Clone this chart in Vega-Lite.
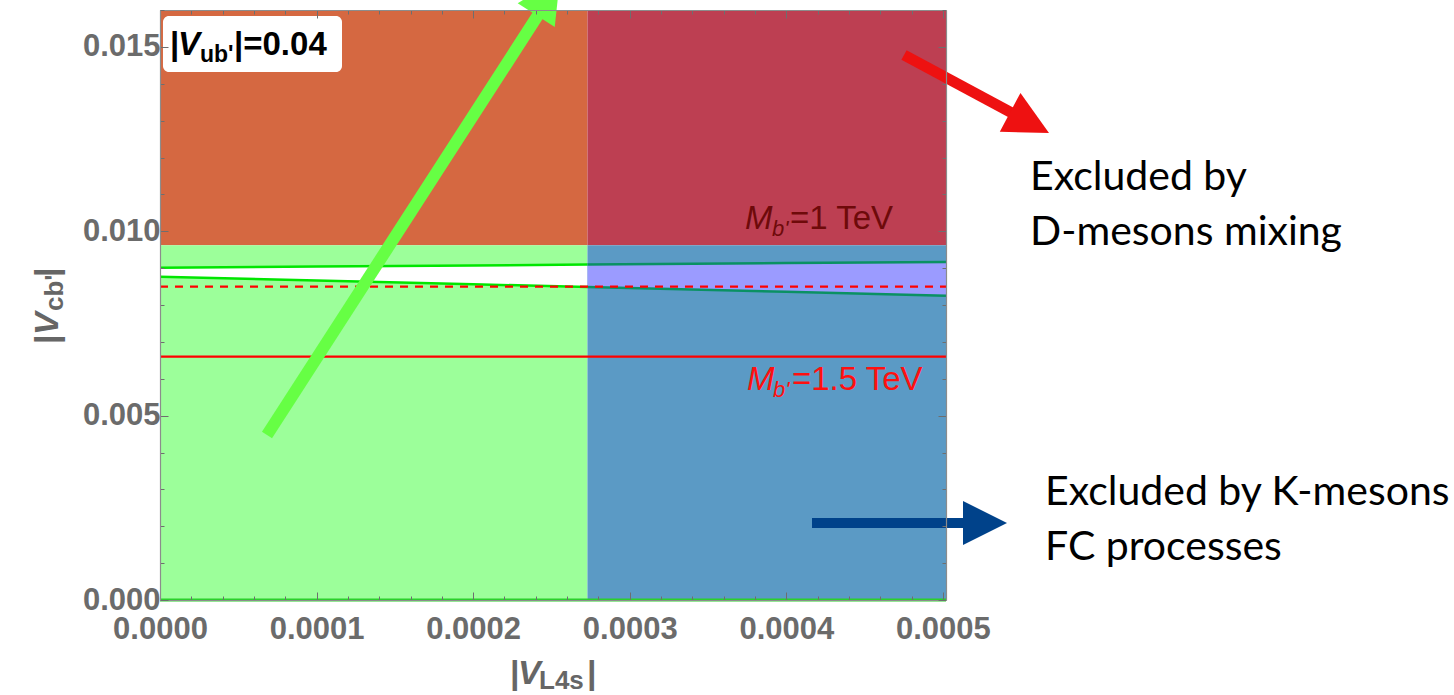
{
  "$schema": "https://vega.github.io/schema/vega-lite/v6.json",
  "width": 786,
  "height": 590,
  "autosize": {"type": "none"},
  "padding": {"left": 160, "top": 10, "right": 508, "bottom": 95},
  "background": "#ffffff",
  "config": {"view": {"stroke": null}},
  "encoding": {
    "x": {"field": "x", "type": "quantitative", "scale": {"domain": [0, 0.000502], "nice": false}, "axis": null},
    "y": {"field": "y", "type": "quantitative", "scale": {"domain": [0, 0.016], "nice": false}, "axis": null}
  },
  "layer": [
    {
      "description": "Exclusion regions in the |V_L4s| - |V_cb'| plane",
      "data": {"values": [
        {"x": 0, "x2": 0.000273, "y": 0.00962, "y2": 0.016, "region": "D-mixing excluded"},
        {"x": 0.000273, "x2": 0.000502, "y": 0.00962, "y2": 0.016, "region": "D-mixing and K-FC excluded"},
        {"x": 0, "x2": 0.000273, "y": 0, "y2": 0.00962, "region": "allowed"},
        {"x": 0.000273, "x2": 0.000502, "y": 0, "y2": 0.00962, "region": "K-FC excluded"}
      ]},
      "mark": {"type": "rect"},
      "encoding": {
        "x": {"field": "x", "type": "quantitative", "scale": {"domain": [0, 0.000502], "nice": false}, "title": null,
          "axis": {"orient": "bottom",
            "values": [0, 0.00002, 0.00004, 0.00006, 0.00008, 0.0001, 0.00012, 0.00014, 0.00016, 0.00018, 0.0002, 0.00022, 0.00024, 0.00026, 0.00028, 0.0003, 0.00032, 0.00034, 0.00036, 0.00038, 0.0004, 0.00042, 0.00044, 0.00046, 0.00048, 0.0005],
            "labelExpr": "abs(datum.value*10000-round(datum.value*10000))<1e-6 ? format(datum.value,'.4f') : ''",
            "tickSize": {"condition": {"test": "abs(datum.value*10000-round(datum.value*10000))<1e-6", "value": -8}, "value": -4},
            "tickColor": "#6e6e6e", "tickWidth": 1, "domainColor": "#8c8c8c", "domainWidth": 1.2,
            "labelFont": "Liberation Sans", "labelFontWeight": "bold", "labelFontSize": 31, "labelColor": "#6b6b6b",
            "labelPadding": 22, "labelFlush": false, "labelOverlap": false, "labelBound": false, "grid": false, "title": null, "zindex": 1}},
        "x2": {"field": "x2"},
        "y": {"field": "y", "type": "quantitative", "scale": {"domain": [0, 0.016], "nice": false}, "title": null,
          "axis": {"orient": "left",
            "values": [0, 0.001, 0.002, 0.003, 0.004, 0.005, 0.006, 0.007, 0.008, 0.009, 0.01, 0.011, 0.012, 0.013, 0.014, 0.015, 0.016],
            "labelExpr": "abs(datum.value*200-round(datum.value*200))<1e-6 ? format(datum.value,'.3f') : ''",
            "tickSize": {"condition": {"test": "abs(datum.value*200-round(datum.value*200))<1e-6", "value": -8}, "value": -4},
            "tickColor": "#6e6e6e", "tickWidth": 1, "domainColor": "#8c8c8c", "domainWidth": 1.2,
            "labelFont": "Liberation Sans", "labelFontWeight": "bold", "labelFontSize": 31, "labelColor": "#6b6b6b",
            "labelPadding": 8, "labelFlush": false, "labelOverlap": false, "labelBound": false, "grid": false, "title": null, "zindex": 1}},
        "y2": {"field": "y2"},
        "fill": {"field": "region", "type": "nominal", "legend": null,
          "scale": {"domain": ["D-mixing excluded", "D-mixing and K-FC excluded", "allowed", "K-FC excluded", "band, allowed", "band, K-FC excluded"],
                    "range": ["#D56841", "#BD3F52", "#9CFF9A", "#5B9AC5", "#FFFFFF", "#9B9BFF"]}}
      }
    },
    {
      "description": "Band between the two green contours",
      "data": {"values": [
        {"x": 0, "y": 0.008768, "y2": 0.009012, "region": "band, allowed"},
        {"x": 0.0001, "y": 0.008665, "y2": 0.009042, "region": "band, allowed"},
        {"x": 0.0002, "y": 0.008563, "y2": 0.009073, "region": "band, allowed"},
        {"x": 0.000273, "y": 0.008488, "y2": 0.009096, "region": "band, allowed"},
        {"x": 0.000273, "y": 0.008488, "y2": 0.009096, "region": "band, K-FC excluded"},
        {"x": 0.0004, "y": 0.008358, "y2": 0.009136, "region": "band, K-FC excluded"},
        {"x": 0.000502, "y": 0.008252, "y2": 0.009166, "region": "band, K-FC excluded"}
      ]},
      "mark": {"type": "area", "interpolate": "linear"},
      "encoding": {
        "x": {"field": "x", "type": "quantitative", "scale": {"domain": [0, 0.000502], "nice": false}, "title": null,
          "axis": {"orient": "top", "labels": false,
            "values": [0, 0.00002, 0.00004, 0.00006, 0.00008, 0.0001, 0.00012, 0.00014, 0.00016, 0.00018, 0.0002, 0.00022, 0.00024, 0.00026, 0.00028, 0.0003, 0.00032, 0.00034, 0.00036, 0.00038, 0.0004, 0.00042, 0.00044, 0.00046, 0.00048, 0.0005],
            "tickSize": {"condition": {"test": "abs(datum.value*10000-round(datum.value*10000))<1e-6", "value": -8}, "value": -4},
            "tickColor": "#6e6e6e", "tickWidth": 1, "domainColor": "#8c8c8c", "domainWidth": 1.2, "grid": false, "title": null, "zindex": 1}},
        "y": {"field": "y", "type": "quantitative", "scale": {"domain": [0, 0.016], "nice": false}, "title": null,
          "axis": {"orient": "right", "labels": false,
            "values": [0, 0.001, 0.002, 0.003, 0.004, 0.005, 0.006, 0.007, 0.008, 0.009, 0.01, 0.011, 0.012, 0.013, 0.014, 0.015, 0.016],
            "tickSize": {"condition": {"test": "abs(datum.value*200-round(datum.value*200))<1e-6", "value": -8}, "value": -4},
            "tickColor": "#6e6e6e", "tickWidth": 1, "domainColor": "#8c8c8c", "domainWidth": 1.2, "grid": false, "title": null, "zindex": 1}},
        "y2": {"field": "y2"},
        "fill": {"field": "region", "type": "nominal", "legend": null,
          "scale": {"domain": ["D-mixing excluded", "D-mixing and K-FC excluded", "allowed", "K-FC excluded", "band, allowed", "band, K-FC excluded"],
                    "range": ["#D56841", "#BD3F52", "#9CFF9A", "#5B9AC5", "#FFFFFF", "#9B9BFF"]}}
      }
    },
    {
      "description": "Green contours bounding the band",
      "data": {"values": [
        {"x": 0, "y": 0.009012, "curve": "upper", "region": "band, allowed"},
        {"x": 0.0001, "y": 0.009042, "curve": "upper", "region": "band, allowed"},
        {"x": 0.0002, "y": 0.009073, "curve": "upper", "region": "band, allowed"},
        {"x": 0.000273, "y": 0.009096, "curve": "upper", "region": "band, allowed"},
        {"x": 0.000273, "y": 0.009096, "curve": "upper", "region": "band, K-FC excluded"},
        {"x": 0.0004, "y": 0.009136, "curve": "upper", "region": "band, K-FC excluded"},
        {"x": 0.000502, "y": 0.009166, "curve": "upper", "region": "band, K-FC excluded"},
        {"x": 0, "y": 0.008768, "curve": "lower", "region": "band, allowed"},
        {"x": 0.0001, "y": 0.008665, "curve": "lower", "region": "band, allowed"},
        {"x": 0.0002, "y": 0.008563, "curve": "lower", "region": "band, allowed"},
        {"x": 0.000273, "y": 0.008488, "curve": "lower", "region": "band, allowed"},
        {"x": 0.000273, "y": 0.008488, "curve": "lower", "region": "band, K-FC excluded"},
        {"x": 0.0004, "y": 0.008358, "curve": "lower", "region": "band, K-FC excluded"},
        {"x": 0.000502, "y": 0.008252, "curve": "lower", "region": "band, K-FC excluded"}
      ]},
      "mark": {"type": "line", "strokeWidth": 2.5},
      "encoding": {
        "detail": {"field": "curve"},
        "stroke": {"field": "region", "type": "nominal", "legend": null,
          "scale": {"domain": ["band, allowed", "band, K-FC excluded"], "range": ["#00E600", "#0A9163"]}}
      }
    },
    {
      "description": "Mass contours: 1 TeV dashed, 1.5 TeV solid",
      "data": {"values": [
        {"x": 0, "x2": 0.000502, "y": 0.0085, "mass": "1 TeV"},
        {"x": 0, "x2": 0.000502, "y": 0.0066, "mass": "1.5 TeV"}
      ]},
      "mark": {"type": "rule", "color": "#FF0000", "strokeWidth": 2.2},
      "encoding": {
        "x2": {"field": "x2"},
        "strokeDash": {"field": "mass", "type": "nominal", "legend": null,
          "scale": {"domain": ["1 TeV", "1.5 TeV"], "range": [[8, 7], [1, 0]]}}
      }
    },
    {
      "data": {"values": [{"x": 0, "x2": 0.000502, "y": 0}]},
      "mark": {"type": "rule", "color": "#2BD02B", "strokeWidth": 3},
      "encoding": {"x2": {"field": "x2"}}
    },
    {
      "description": "Arrow shafts",
      "data": {"values": [
        {"target": "allowed band", "x": 0.00006834, "y": 0.0044746, "x2": 0.0002427, "y2": 0.0159458},
        {"target": "D-mesons mixing", "x": 0.00047518, "y": 0.0147797, "x2": 0.00054415, "y2": 0.0132068},
        {"target": "K-mesons FC", "x": 0.00041642, "y": 0.0020881, "x2": 0.0005301, "y2": 0.0020881}
      ]},
      "mark": {"type": "rule", "strokeCap": "butt"},
      "encoding": {
        "x2": {"field": "x2"},
        "y2": {"field": "y2"},
        "strokeWidth": {"field": "target", "type": "nominal", "legend": null,
          "scale": {"domain": ["allowed band", "D-mesons mixing", "K-mesons FC"], "range": [12, 10, 10]}},
        "color": {"field": "target", "type": "nominal", "legend": null,
          "scale": {"domain": ["allowed band", "D-mesons mixing", "K-mesons FC", "1 TeV", "1.5 TeV"],
                    "range": ["#66FF44", "#EE1111", "#00428A", "#6E0A0A", "#FF1010"]}}
      }
    },
    {
      "data": {"values": [{"target": "allowed band", "x": 0.00025547, "y": 0.0168678}]},
      "mark": {"type": "point", "shape": "M0,0L1,2L-1,2Z", "size": 1936, "angle": 32.7, "filled": true, "opacity": 1, "strokeWidth": 0},
      "encoding": {"color": {"field": "target", "type": "nominal", "legend": null,
          "scale": {"domain": ["allowed band", "D-mesons mixing", "K-mesons FC", "1 TeV", "1.5 TeV"],
                    "range": ["#66FF44", "#EE1111", "#00428A", "#6E0A0A", "#FF1010"]}}}
    },
    {
      "data": {"values": [{"target": "D-mesons mixing", "x": 0.00056778, "y": 0.0126644}]},
      "mark": {"type": "point", "shape": "M0,0L1,2L-1,2Z", "size": 1936, "angle": 118, "filled": true, "opacity": 1, "strokeWidth": 0},
      "encoding": {"color": {"field": "target", "type": "nominal", "legend": null,
          "scale": {"domain": ["allowed band", "D-mesons mixing", "K-mesons FC", "1 TeV", "1.5 TeV"],
                    "range": ["#66FF44", "#EE1111", "#00428A", "#6E0A0A", "#FF1010"]}}}
    },
    {
      "data": {"values": [{"target": "K-mesons FC", "x": 0.00054096, "y": 0.0020881}]},
      "mark": {"type": "point", "shape": "M0,0L1,2L-1,2Z", "size": 1936, "angle": 90, "filled": true, "opacity": 1, "strokeWidth": 0},
      "encoding": {"color": {"field": "target", "type": "nominal", "legend": null,
          "scale": {"domain": ["allowed band", "D-mesons mixing", "K-mesons FC", "1 TeV", "1.5 TeV"],
                    "range": ["#66FF44", "#EE1111", "#00428A", "#6E0A0A", "#FF1010"]}}}
    },
    {
      "description": "Inset label box",
      "data": {"values": [{"x": 0.0000019, "x2": 0.00011624, "y": 0.015837, "y2": 0.014319}]},
      "mark": {"type": "rect", "fill": "#FFFFFF", "cornerRadius": 6},
      "encoding": {"x2": {"field": "x2"}, "y2": {"field": "y2"}}
    },
    {
      "data": {"values": [
        {"x": 0.0000063867, "y": 0.0147797, "text": "|"},
        {"x": 0.00004726, "y": 0.0147797, "text": "|=0.04"}
      ]},
      "mark": {"type": "text", "align": "left", "baseline": "alphabetic", "font": "Liberation Sans", "fontWeight": "bold", "fontSize": 33, "color": "#000000"},
      "encoding": {"text": {"field": "text"}}
    },
    {
      "data": {"values": [{"x": 0.000011496, "y": 0.0147797, "text": "V"}]},
      "mark": {"type": "text", "align": "left", "baseline": "alphabetic", "font": "Liberation Sans", "fontWeight": "bold", "fontStyle": "italic", "fontSize": 33, "color": "#000000"},
      "encoding": {"text": {"field": "text"}}
    },
    {
      "data": {"values": [{"x": 0.00002555, "y": 0.01459, "text": "ub'"}]},
      "mark": {"type": "text", "align": "left", "baseline": "alphabetic", "font": "Liberation Sans", "fontWeight": "bold", "fontSize": 23, "color": "#000000"},
      "encoding": {"text": {"field": "text"}}
    },
    {
      "description": "Mass contour labels",
      "data": {"values": [
        {"x": 0.00037363, "y": 0.010061, "text": "M", "target": "1 TeV"},
        {"x": 0.0003749, "y": 0.0056949, "text": "M", "target": "1.5 TeV"}
      ]},
      "mark": {"type": "text", "align": "left", "baseline": "alphabetic", "font": "Liberation Sans", "fontStyle": "italic", "fontSize": 33},
      "encoding": {"text": {"field": "text"},
        "color": {"field": "target", "type": "nominal", "legend": null,
          "scale": {"domain": ["allowed band", "D-mesons mixing", "K-mesons FC", "1 TeV", "1.5 TeV"],
                    "range": ["#66FF44", "#EE1111", "#00428A", "#6E0A0A", "#FF1010"]}}}
    },
    {
      "data": {"values": [
        {"x": 0.00039087, "y": 0.0098712, "text": "b'", "target": "1 TeV"},
        {"x": 0.00039151, "y": 0.0055051, "text": "b'", "target": "1.5 TeV"}
      ]},
      "mark": {"type": "text", "align": "left", "baseline": "alphabetic", "font": "Liberation Sans", "fontStyle": "italic", "fontSize": 22},
      "encoding": {"text": {"field": "text"},
        "color": {"field": "target", "type": "nominal", "legend": null,
          "scale": {"domain": ["allowed band", "D-mesons mixing", "K-mesons FC", "1 TeV", "1.5 TeV"],
                    "range": ["#66FF44", "#EE1111", "#00428A", "#6E0A0A", "#FF1010"]}}}
    },
    {
      "data": {"values": [
        {"x": 0.00040236, "y": 0.010061, "text": "=1 TeV", "target": "1 TeV"},
        {"x": 0.00040364, "y": 0.0056949, "text": "=1.5 TeV", "target": "1.5 TeV"}
      ]},
      "mark": {"type": "text", "align": "left", "baseline": "alphabetic", "font": "Liberation Sans", "fontSize": 33},
      "encoding": {"text": {"field": "text"},
        "color": {"field": "target", "type": "nominal", "legend": null,
          "scale": {"domain": ["allowed band", "D-mesons mixing", "K-mesons FC", "1 TeV", "1.5 TeV"],
                    "range": ["#66FF44", "#EE1111", "#00428A", "#6E0A0A", "#FF1010"]}}}
    },
    {
      "description": "x-axis title |V_L4s|",
      "data": {"values": [
        {"x": 0.00022354, "y": -0.0022780, "text": "|"},
        {"x": 0.00027271, "y": -0.0022780, "text": "|"}
      ]},
      "mark": {"type": "text", "align": "left", "baseline": "alphabetic", "font": "Liberation Sans", "fontWeight": "bold", "fontSize": 34, "color": "#666666"},
      "encoding": {"text": {"field": "text"}}
    },
    {
      "data": {"values": [{"x": 0.00022864, "y": -0.0022780, "text": "V"}]},
      "mark": {"type": "text", "align": "left", "baseline": "alphabetic", "font": "Liberation Sans", "fontWeight": "bold", "fontStyle": "italic", "fontSize": 34, "color": "#666666"},
      "encoding": {"text": {"field": "text"}}
    },
    {
      "data": {"values": [{"x": 0.00024206, "y": -0.0024136, "text": "L4s"}]},
      "mark": {"type": "text", "align": "left", "baseline": "alphabetic", "font": "Liberation Sans", "fontWeight": "bold", "fontSize": 26, "color": "#666666"},
      "encoding": {"text": {"field": "text"}}
    },
    {
      "description": "y-axis title |V_cb'|, rotated",
      "data": {"values": [
        {"x": -0.00006514, "y": 0.0069424, "text": "|"},
        {"x": -0.00006514, "y": 0.0087593, "text": "|"}
      ]},
      "mark": {"type": "text", "align": "left", "baseline": "alphabetic", "angle": 270, "font": "Liberation Sans", "fontWeight": "bold", "fontSize": 34, "color": "#666666"},
      "encoding": {"text": {"field": "text"}}
    },
    {
      "data": {"values": [{"x": -0.00006514, "y": 0.0071864, "text": "V"}]},
      "mark": {"type": "text", "align": "left", "baseline": "alphabetic", "angle": 270, "font": "Liberation Sans", "fontWeight": "bold", "fontStyle": "italic", "fontSize": 34, "color": "#666666"},
      "encoding": {"text": {"field": "text"}}
    },
    {
      "data": {"values": [{"x": -0.00006195, "y": 0.0078373, "text": "cb'"}]},
      "mark": {"type": "text", "align": "left", "baseline": "alphabetic", "angle": 270, "font": "Liberation Sans", "fontWeight": "bold", "fontSize": 26, "color": "#666666"},
      "encoding": {"text": {"field": "text"}}
    },
    {
      "description": "Annotations for the excluded regions",
      "data": {"values": [
        {"x": 0.00055565, "y": 0.0111186, "text": "Excluded by"},
        {"x": 0.00055565, "y": 0.0096271, "text": "D-mesons mixing"},
        {"x": 0.00056522, "y": 0.0025763, "text": "Excluded by K-mesons"},
        {"x": 0.00056522, "y": 0.0010847, "text": "FC processes"}
      ]},
      "mark": {"type": "text", "align": "left", "baseline": "alphabetic", "font": "Lato", "fontSize": 41, "color": "#000000"},
      "encoding": {"text": {"field": "text"}}
    }
  ],
  "resolve": {"axis": {"x": "independent", "y": "independent"}}
}
